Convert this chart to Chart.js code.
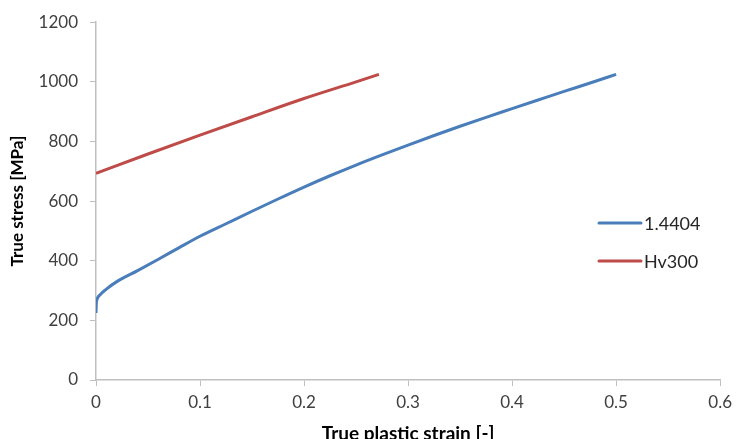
<!DOCTYPE html>
<html>
<head>
<meta charset="utf-8">
<script src="https://cdn.jsdelivr.net/npm/chart.js@4/dist/chart.umd.min.js"></script>
<style>
    html, body { margin: 0; padding: 0; background: #fff; }
    #wrap { width: 738px; height: 439px; position: relative; }
</style>
</head>
<body>
<div id="wrap"><canvas id="chart"></canvas></div>
<script>
// series (strain [-], stress [MPa])
const steelStrain = [0, 0.0003, 0.001, 0.004, 0.01, 0.02, 0.04, 0.06, 0.08, 0.1, 0.125, 0.15, 0.175, 0.2,
    0.225, 0.25, 0.275, 0.3, 0.325, 0.35, 0.375, 0.4, 0.425, 0.45, 0.475, 0.5];
const steelStress = [225, 255, 270, 286, 305, 330, 367, 405, 444, 482, 524, 566, 607, 647,
    685, 721, 755, 788, 820, 851, 881, 910, 939, 968, 996, 1025];

const hvStrain = [0, 0.05, 0.1, 0.15, 0.2, 0.25, 0.272];
const hvStress = [693, 758, 821, 883, 944, 1000, 1025];

const seriesNames = ['1.4404', 'Hv300'];
const seriesColors = ['#4a7ebb', '#be4b48'];

const xTicks = [0, 0.1, 0.2, 0.3, 0.4, 0.5, 0.6];
const yTicks = [0, 200, 400, 600, 800, 1000, 1200];

const toPoints = (xs, ys) => xs.map((x, i) => ({ x: x, y: ys[i] }));

// legend drawn inside the plot, right side, like the Excel original
const insideLegend = {
    id: 'insideLegend',
    afterDraw(chart) {
        const ctx = chart.ctx;
        const left = 599, top = 223, gap = 38;
        ctx.save();
        chart.data.datasets.forEach((ds, i) => {
            const y = top + i * gap;
            ctx.strokeStyle = ds.borderColor;
            ctx.lineWidth = 3;
            ctx.lineCap = 'round';
            ctx.beginPath();
            ctx.moveTo(left, y);
            ctx.lineTo(left + 42, y);
            ctx.stroke();
            ctx.fillStyle = '#262626';
            ctx.font = "18px Lato";
            ctx.textBaseline = 'middle';
            ctx.fillText(ds.label, left + 45, y + 1);
        });
        ctx.restore();
    }
};

Chart.defaults.font.family = "Lato, 'Open Sans', sans-serif";

new Chart(document.getElementById('chart').getContext('2d'), {
    type: 'scatter',
    data: {
        datasets: [
            {
                label: seriesNames[0],
                data: toPoints(steelStrain, steelStress),
                borderColor: seriesColors[0],
                backgroundColor: seriesColors[0],
                showLine: true,
                borderWidth: 3,
                pointRadius: 0,
                cubicInterpolationMode: 'monotone'
            },
            {
                label: seriesNames[1],
                data: toPoints(hvStrain, hvStress),
                borderColor: seriesColors[1],
                backgroundColor: seriesColors[1],
                showLine: true,
                borderWidth: 3,
                pointRadius: 0,
                cubicInterpolationMode: 'monotone'
            }
        ]
    },
    options: {
        responsive: true,
        maintainAspectRatio: false,
        animation: false,
        layout: { padding: { left: 0, right: 17, top: 22, bottom: 0 } },
        plugins: {
            legend: { display: false },
            tooltip: { enabled: false }
        },
        scales: {
            x: {
                type: 'linear',
                min: 0,
                max: 0.6,
                afterBuildTicks: axis => { axis.ticks = xTicks.map(v => ({ value: v })); },
                afterFit: axis => { axis.height = 59; },
                ticks: {
                    color: '#404040',
                    font: { size: 17 },
                    padding: 6,
                    maxRotation: 0,
                    callback: v => String(+v.toFixed(1))
                },
                grid: { drawOnChartArea: false, tickLength: 6, color: '#bfbfbf' },
                border: { color: '#bfbfbf', width: 1.5 },
                title: {
                    display: true,
                    text: 'True plastic strain [-]',
                    color: '#000',
                    font: { size: 19, weight: 'bold' },
                    padding: { top: 0, bottom: -6 }
                }
            },
            y: {
                min: 0,
                max: 1200,
                afterBuildTicks: axis => { axis.ticks = yTicks.map(v => ({ value: v })); },
                afterFit: axis => { axis.width = 96; },
                ticks: {
                    color: '#404040',
                    font: { size: 17 },
                    padding: 12,
                    callback: v => String(v)
                },
                grid: { drawOnChartArea: false, tickLength: 6, color: '#bfbfbf' },
                border: { color: '#bfbfbf', width: 1.5 },
                title: {
                    display: true,
                    text: 'True stress [MPa]',
                    color: '#000',
                    font: { size: 17, weight: 'bold' },
                    padding: { top: 7, bottom: 0 }
                }
            }
        }
    },
    plugins: [insideLegend]
});
</script>
</body>
</html>
